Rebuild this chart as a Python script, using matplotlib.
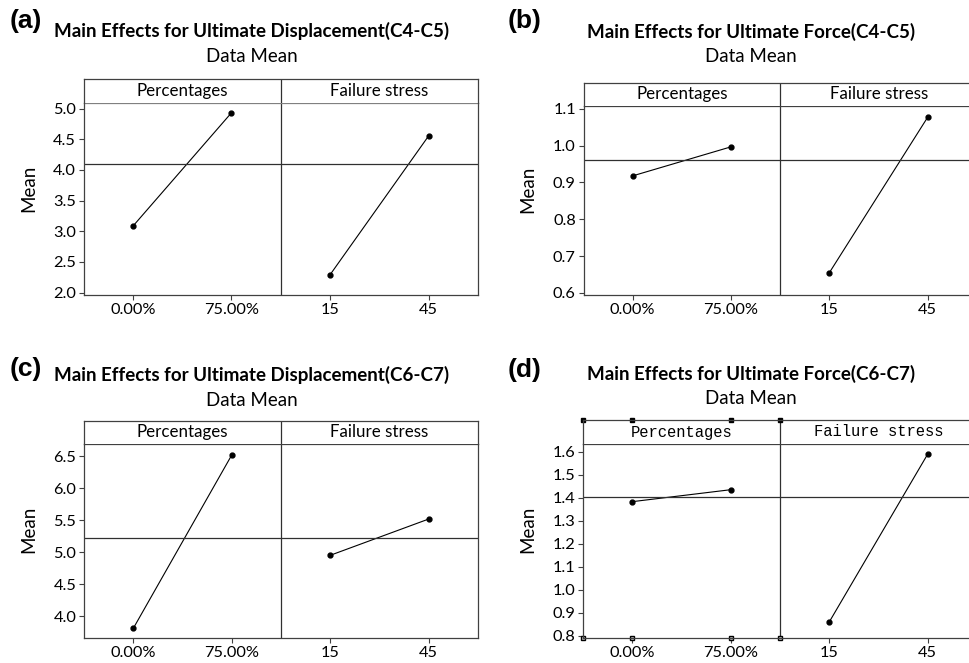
import numpy as np
import matplotlib.pyplot as plt

plt.rcParams['font.family'] = 'Lato'
plt.rcParams['font.size'] = 11.5
plt.rcParams['axes.linewidth'] = 0.9
plt.rcParams['axes.edgecolor'] = '#404040'

W, H = 969, 663

# data
pct_labels = ['0.00%', '75.00%']
fs_labels = ['15', '45']
strip_labels = ['Percentages', 'Failure stress']

titles = ['Main Effects for Ultimate Displacement(C4-C5)',
          'Main Effects for Ultimate Force(C4-C5)',
          'Main Effects for Ultimate Displacement(C6-C7)',
          'Main Effects for Ultimate Force(C6-C7)']
panel_tags = ['(a)', '(b)', '(c)', '(d)']

pct_means = [[3.08, 4.93], [0.918, 0.997], [3.81, 6.52], [1.383, 1.435]]
fs_means = [[2.29, 4.555], [0.655, 1.078], [4.953, 5.52], [0.86, 1.59]]
grand_mean = [4.09, 0.960, 5.228, 1.403]

yticks = [np.arange(2.0, 5.01, 0.5), np.arange(0.6, 1.11, 0.1),
          np.arange(4.0, 6.51, 0.5), np.arange(0.8, 1.61, 0.1)]
ylims = [(1.96, 5.09), (0.594, 1.108), (3.656, 6.692), (0.789, 1.635)]

# pixel boxes: left, right, strip top, strip bottom, axes bottom
boxes = [(83.5, 478, 79, 103, 295),
         (583.5, 977, 83, 106, 295),
         (84, 478, 420.5, 444, 638.3),
         (583, 977, 420.3, 443.7, 638.3)]
title_pos = [(252, 31), (751, 31.5), (252, 375), (751, 374)]
tag_pos = [(10, 21), (508, 21), (10, 369), (508, 370)]
ylab_pos = [(29, 188), (528, 189), (29, 529), (528, 529)]
strip_line = ['#808080', '#404040', '#404040', '#404040']

fig = plt.figure(figsize=(W / 100, H / 100), dpi=100)


def fx(x):
    return x / W


def fy(y):
    return 1 - y / H


for i in range(4):
    l, r, st, sb, b = boxes[i]
    ax = fig.add_axes([fx(l), fy(b), fx(r - l), (b - sb) / H])
    sax = fig.add_axes([fx(l), fy(sb), fx(r - l), (sb - st) / H])

    ax.plot([0.5, 1.5], pct_means[i], color='black', lw=0.8, marker='o', ms=3.5)
    ax.plot([2.5, 3.5], fs_means[i], color='black', lw=0.8, marker='o', ms=3.5)
    ax.axhline(grand_mean[i], color='#303030', lw=0.9)
    ax.axvline(2, color='#303030', lw=0.9)
    ax.set_xlim(0, 4)
    ax.set_ylim(*ylims[i])
    ax.set_xticks([0.5, 1.5, 2.5, 3.5])
    ax.set_xticklabels(pct_labels + fs_labels)
    ax.set_yticks(yticks[i])
    ax.set_yticklabels(['%.1f' % v for v in yticks[i]])
    ax.tick_params(length=3.5, width=0.8, color='#404040', labelsize=11.8, pad=2)
    ax.spines['top'].set_color(strip_line[i])

    sax.set_xlim(0, 4)
    sax.set_ylim(0, 1)
    sax.set_xticks([])
    sax.set_yticks([])
    sax.axvline(2, color='#303030', lw=0.9)
    sax.spines['bottom'].set_visible(False)
    if i == 3:
        for k in range(2):
            sax.text(1 + 2 * k, 0.5, strip_labels[k], ha='center', va='center',
                     family='Liberation Mono', fontsize=11.2)
        handle_x = [0, 0.5, 1.5, 2]
        sax.plot(handle_x, [1] * 4, ls='none', marker='s', ms=3.5,
                 color='black', clip_on=False)
        ax.plot(handle_x, [ylims[i][0]] * 4, ls='none', marker='s', ms=3.5,
                mfc='#cccccc', mec='black', mew=1, clip_on=False)
    else:
        for k in range(2):
            sax.text(1 + 2 * k, 0.52, strip_labels[k], ha='center', va='center',
                     fontsize=12.2)

    tx, ty = title_pos[i]
    fig.text(fx(tx), fy(ty), titles[i], ha='center', va='center',
             fontsize=13.5, fontweight='bold')
    fig.text(fx(tx), fy(ty + 25), 'Data Mean', ha='center', va='center',
             fontsize=13.5)
    gx, gy = tag_pos[i]
    fig.text(fx(gx), fy(gy), panel_tags[i], ha='left', va='center',
             family='Liberation Sans', fontweight='bold', fontsize=19)
    yx, yy = ylab_pos[i]
    fig.text(fx(yx), fy(yy), 'Mean', rotation=90, ha='center', va='center',
             fontsize=13.5)

fig.savefig('out.png', dpi=100)
